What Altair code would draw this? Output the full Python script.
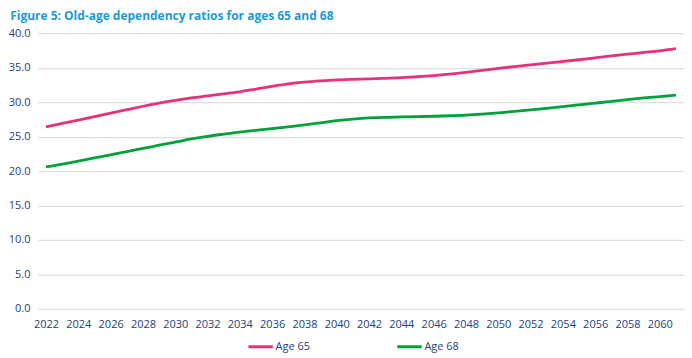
import altair as alt
import pandas as pd

years = list(range(2022, 2062))
age65 = [26.4, 26.9, 27.4, 27.9, 28.4, 28.9, 29.4, 29.85, 30.25, 30.6,
         30.9, 31.2, 31.5, 31.9, 32.3, 32.65, 32.9, 33.08, 33.22, 33.3,
         33.36, 33.45, 33.55, 33.68, 33.85, 34.07, 34.33, 34.62, 34.9, 35.15,
         35.4, 35.65, 35.9, 36.15, 36.43, 36.7, 36.95, 37.2, 37.45, 37.75]
age68 = [20.6, 21.0, 21.45, 21.9, 22.35, 22.8, 23.27, 23.75, 24.2, 24.65,
         25.03, 25.35, 25.65, 25.9, 26.15, 26.42, 26.7, 27.0, 27.3, 27.53,
         27.7, 27.8, 27.85, 27.9, 27.95, 28.02, 28.12, 28.27, 28.45, 28.65,
         28.87, 29.1, 29.35, 29.6, 29.85, 30.1, 30.37, 30.6, 30.8, 31.0]
series = ["Age 65", "Age 68"]
colors = ["#e8317b", "#00a13a"]
x_ticks = list(range(2022, 2061, 2))
y_ticks = [0, 5, 10, 15, 20, 25, 30, 35, 40]

df = pd.DataFrame({
    "year": years * 2,
    "value": age65 + age68,
    "series": [series[0]] * len(years) + [series[1]] * len(years),
})

font = "Open Sans"
label_color = "#233e7c"

chart = alt.Chart(df).mark_line(strokeWidth=2.8, interpolate="monotone").encode(
    x=alt.X("year:Q",
            scale=alt.Scale(domain=[2021.5, 2061.5], nice=False, zero=False),
            axis=alt.Axis(values=x_ticks, format="d", title=None, grid=False,
                          domain=False, ticks=False, labelPadding=10,
                          labelFontSize=11, labelColor=label_color, labelFont=font)),
    y=alt.Y("value:Q",
            scale=alt.Scale(domain=[0, 40], nice=False),
            axis=alt.Axis(values=y_ticks, format=".1f", title=None, grid=True,
                          gridColor="#e0e0e0", gridWidth=1.2, domain=False, ticks=False,
                          labelPadding=8, labelFontSize=11, labelColor=label_color,
                          labelFont=font)),
    color=alt.Color("series:N",
                    scale=alt.Scale(domain=series, range=colors),
                    legend=alt.Legend(orient="none", legendX=209, legendY=300,
                                      direction="horizontal", title=None,
                                      symbolType="stroke", symbolSize=600,
                                      symbolStrokeWidth=3, symbolOffset=0,
                                      labelFontSize=11, labelColor=label_color,
                                      labelFont=font, labelOffset=1,
                                      columnPadding=80)),
).properties(
    width=647,
    height=276,
    autosize=alt.AutoSizeParams(type="none"),
    padding={"left": 30, "top": 25, "right": 0, "bottom": 45},
    title=alt.TitleParams("Figure 5: Old-age dependency ratios for ages 65 and 68",
                          anchor="start", font=font, fontSize=12, fontWeight="bold",
                          color="#1a9bd7", offset=4, dx=2),
).configure_view(stroke=None)

chart.save("out.html", embed_options={"renderer": "svg", "actions": False})
